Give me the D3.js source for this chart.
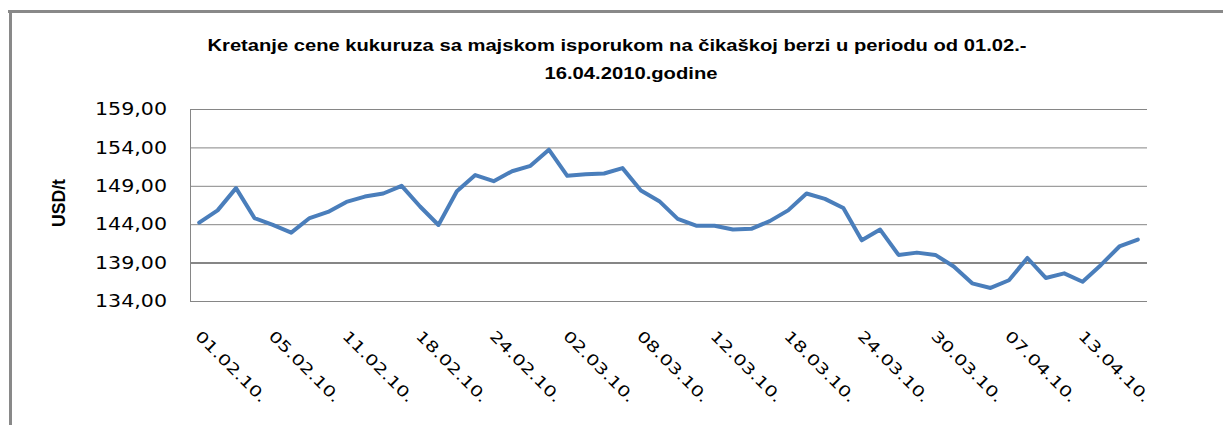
<!DOCTYPE html>
<html>
<head>
<meta charset="utf-8">
<script src="https://cdn.jsdelivr.net/npm/d3@7"></script>
<style>
    body { margin: 0; background: #fff; }
    svg { display: block; }
</style>
</head>
<body>
<svg id="chart"></svg>
<script>
// trading days (CBOT), Feb 1 - Apr 16 2010
const dates = [
    '01.02.10.', '02.02.10.', '03.02.10.', '04.02.10.', '05.02.10.', '08.02.10.', '09.02.10.', '10.02.10.',
    '11.02.10.', '12.02.10.', '16.02.10.', '17.02.10.', '18.02.10.', '19.02.10.', '22.02.10.', '23.02.10.',
    '24.02.10.', '25.02.10.', '26.02.10.', '01.03.10.', '02.03.10.', '03.03.10.', '04.03.10.', '05.03.10.',
    '08.03.10.', '09.03.10.', '10.03.10.', '11.03.10.', '12.03.10.', '15.03.10.', '16.03.10.', '17.03.10.',
    '18.03.10.', '19.03.10.', '22.03.10.', '23.03.10.', '24.03.10.', '25.03.10.', '26.03.10.', '29.03.10.',
    '30.03.10.', '31.03.10.', '01.04.10.', '06.04.10.', '07.04.10.', '08.04.10.', '09.04.10.', '12.04.10.',
    '13.04.10.', '14.04.10.', '15.04.10.', '16.04.10.'
];

// price USD/t
const prices = [
    144.2, 145.8, 148.7, 144.8, 143.9, 142.9, 144.8, 145.6,
    146.9, 147.6, 148.0, 149.0, 146.3, 143.9, 148.3, 150.4,
    149.6, 150.9, 151.6, 153.7, 150.3, 150.5, 150.6, 151.3,
    148.4, 147.0, 144.7, 143.8, 143.8, 143.3, 143.4, 144.4,
    145.8, 148.0, 147.3, 146.1, 141.9, 143.3, 140.0, 140.3,
    140.0, 138.5, 136.3, 135.7, 136.7, 139.6, 137.0, 137.6,
    136.5, 138.7, 141.1, 142.0
];

const yTicks = [134, 139, 144, 149, 154, 159];
const xTickLabels = dates.filter( (d, i) => i % 4 === 0 );

const titleLines = [
    'Kretanje cene kukuruza sa majskom isporukom na čikaškoj berzi u periodu od 01.02.-',
    '16.04.2010.godine'
];
const yLabel = 'USD/t';

const width = 1223, height = 425;
const margin = { top: 109, left: 190 };
const innerWidth = 957, innerHeight = 192;

const svg = d3.select( '#chart' )
    .attr( 'width', width )
    .attr( 'height', height );

// outer frame (top and left edges only are visible)
svg.append( 'line' )
    .attr( 'x1', 8 ).attr( 'x2', width )
    .attr( 'y1', 11.5 ).attr( 'y2', 11.5 )
    .attr( 'stroke', '#898989' ).attr( 'stroke-width', 3 );
svg.append( 'line' )
    .attr( 'x1', 10.5 ).attr( 'x2', 10.5 )
    .attr( 'y1', 10 ).attr( 'y2', height )
    .attr( 'stroke', '#898989' ).attr( 'stroke-width', 3 );

// title
const titleCfg = [ { x: 617, y: 51, len: 819 }, { x: 631, y: 79, len: 173 } ];
svg.append( 'g' )
    .selectAll( 'text' )
    .data( titleLines )
    .join( 'text' )
    .attr( 'x', (d, i) => titleCfg[i].x )
    .attr( 'y', (d, i) => titleCfg[i].y )
    .attr( 'text-anchor', 'middle' )
    .attr( 'textLength', (d, i) => titleCfg[i].len )
    .attr( 'lengthAdjust', 'spacingAndGlyphs' )
    .style( 'font-family', '"Liberation Sans", Arial, sans-serif' )
    .style( 'font-size', '17px' )
    .style( 'font-weight', 'bold' )
    .style( 'fill', '#000' )
    .text( d => d );

const xscale = d3.scaleBand()
    .domain( dates )
    .range( [ margin.left, margin.left + innerWidth ] );

const yscale = d3.scaleLinear()
    .domain( [ 134, 159 ] )
    .range( [ margin.top + innerHeight, margin.top ] );

// gridlines
const grid = svg.append( 'g' )
    .attr( 'transform', `translate(${margin.left}, 0)` )
    .call( d3.axisLeft( yscale ).tickValues( yTicks ).tickSize( -innerWidth ).tickFormat( '' ) );
grid.select( '.domain' ).attr( 'stroke', '#868686' );
grid.selectAll( '.tick line' )
    .attr( 'stroke', '#868686' )
    .attr( 'stroke-width', d => d === 139 ? 2 : 1 );

// y tick labels
const yfmt = d => d.toFixed( 2 ).replace( '.', ',' );
svg.append( 'g' )
    .selectAll( 'text' )
    .data( yTicks )
    .join( 'text' )
    .attr( 'x', margin.left - 23 )
    .attr( 'y', d => yscale( d ) )
    .attr( 'dy', '0.36em' )
    .attr( 'text-anchor', 'end' )
    .attr( 'textLength', 72 )
    .attr( 'lengthAdjust', 'spacingAndGlyphs' )
    .style( 'font-family', '"DejaVu Sans", sans-serif' )
    .style( 'font-size', '17px' )
    .style( 'fill', '#000' )
    .text( yfmt );

// x tick labels, rotated 45deg
const lx = d => xscale( d ) + xscale.bandwidth() / 2 - 5;
const ly = margin.top + innerHeight + 36;
svg.append( 'g' )
    .selectAll( 'text' )
    .data( xTickLabels )
    .join( 'text' )
    .attr( 'x', lx )
    .attr( 'y', ly )
    .attr( 'transform', d => `rotate(45, ${lx( d )}, ${ly})` )
    .attr( 'textLength', 94 )
    .attr( 'lengthAdjust', 'spacingAndGlyphs' )
    .style( 'font-family', '"DejaVu Sans", sans-serif' )
    .style( 'font-size', '15px' )
    .style( 'fill', '#000' )
    .text( d => d );

// y axis title
svg.append( 'text' )
    .attr( 'x', 65 )
    .attr( 'y', 203 )
    .attr( 'transform', 'rotate(-90, 65, 203)' )
    .attr( 'text-anchor', 'middle' )
    .attr( 'textLength', 48 )
    .attr( 'lengthAdjust', 'spacingAndGlyphs' )
    .style( 'font-family', '"Liberation Sans", Arial, sans-serif' )
    .style( 'font-size', '19px' )
    .style( 'font-weight', 'bold' )
    .text( yLabel );

// price line
const line = d3.line()
    .x( (d, i) => xscale( dates[i] ) + xscale.bandwidth() / 2 )
    .y( d => yscale( d ) );

svg.append( 'path' )
    .attr( 'd', line( prices ) )
    .attr( 'fill', 'none' )
    .attr( 'stroke', '#4a7ebb' )
    .attr( 'stroke-width', 4 )
    .attr( 'stroke-linejoin', 'round' )
    .attr( 'stroke-linecap', 'round' );
</script>
</body>
</html>
